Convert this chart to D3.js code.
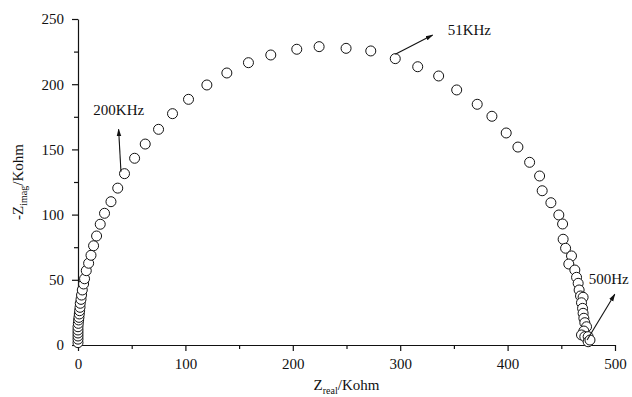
<!DOCTYPE html>
<html>
<head>
<meta charset="utf-8">
<script src="https://cdn.jsdelivr.net/npm/d3@7"></script>
<style>
  body { margin: 0; background: #fff; }
  text { font-family: "Liberation Serif", "Times New Roman", serif; fill: #111; }
  .axis path, .axis line { stroke: #111; stroke-width: 1.2px; }
  .axis text { font-size: 15px; font-family: "Liberation Serif", serif; fill: #111; }
</style>
</head>
<body>
<script>
// impedance data, Kohm
var zReal = [0, 0, 0, 0, 0, 0, 0.3, 0.6, 0.9, 1.2, 1.5, 1.9, 2.1, 2.8, 3.3, 4.0, 5.2, 6.1, 7.7, 9.9,
    12.1, 14.5, 17.3, 20.7, 24.7, 30.7, 37.0, 43.3, 52.7, 62.6, 75.0, 88.0, 102.9, 120.0, 138.6, 158.7,
    179.5, 203.7, 224.5, 249.6, 272.6, 295.4, 316.3, 335.8, 352.6, 371.7, 385.4, 398.7, 409.6, 420.5,
    429.8, 432.2, 440.3, 447.7, 451.2, 451.7, 454.0, 459.5, 457.0, 462.6, 464.2, 465.7, 466.6, 467.9,
    470.3, 468.8, 469.8, 470.3, 471.0, 471.9, 473.5, 471.0, 468.8, 471.9, 475.0, 475.0, 476.7];
var zImag = [1.8, 4.5, 6.9, 9.2, 11.5, 14.0, 16.6, 19.2, 21.2, 23.8, 26.3, 28.9, 32.0, 35.0, 38.3, 42.2,
    46.8, 50.8, 57.0, 62.7, 68.8, 76.1, 83.6, 92.6, 101.0, 109.9, 120.3, 131.4, 143.2, 154.1, 165.4,
    177.4, 188.4, 199.4, 208.6, 216.5, 222.4, 226.8, 228.8, 227.5, 225.5, 219.6, 213.4, 206.3, 195.6,
    184.6, 175.4, 162.6, 151.8, 140.1, 129.6, 118.3, 109.1, 99.7, 92.8, 81.1, 74.2, 68.3, 62.1, 57.5,
    51.9, 47.3, 42.2, 37.6, 36.6, 32.4, 28.1, 24.3, 20.5, 17.1, 14.0, 10.7, 7.7, 6.4, 6.4, 2.5, 3.8];

var xTicks = [0, 100, 200, 300, 400, 500];
var yTicks = [0, 50, 100, 150, 200, 250];

// frequency labels: text, arrow tail, arrow head (data units)
var noteLabels = ["200KHz", "51KHz", "500Hz"];
var noteText = [[14.3, 176.4], [344.2, 238.1], [475.6, 46.8]];
var noteTail = [[40.0, 132.9], [295.4, 222.9], [474.0, 3.8]];
var noteHead = [[37.8, 165.4], [330.2, 237.7], [499.8, 38.9]];

var width = 632, height = 397;
var margin = {left: 78, right: 17, top: 19, bottom: 52};

var svg = d3.select("body").append("svg")
    .attr("width", width)
    .attr("height", height);

var x = d3.scaleLinear().domain([0, 500]).range([margin.left, width - margin.right]);
var y = d3.scaleLinear().domain([0, 250]).range([height - margin.bottom, margin.top]);

svg.append("defs").append("marker")
    .attr("id", "arr")
    .attr("viewBox", "0 0 10 10")
    .attr("refX", 9).attr("refY", 5)
    .attr("markerWidth", 7).attr("markerHeight", 7)
    .attr("orient", "auto")
    .append("path")
    .attr("d", "M0,2 L10,5 L0,8 Z")
    .attr("fill", "#111");

// minor ticks first
svg.append("g").attr("class", "axis")
    .attr("transform", "translate(0," + y(0) + ")")
    .call(d3.axisBottom(x).tickValues(d3.range(50, 500, 100)).tickSize(4).tickFormat(""))
    .select(".domain").remove();
svg.append("g").attr("class", "axis")
    .attr("transform", "translate(" + x(0) + ",0)")
    .call(d3.axisLeft(y).tickValues(d3.range(25, 250, 50)).tickSize(4).tickFormat(""))
    .select(".domain").remove();

svg.append("g").attr("class", "axis")
    .attr("transform", "translate(0," + y(0) + ")")
    .call(d3.axisBottom(x).tickValues(xTicks).tickSize(6).tickSizeOuter(0).tickPadding(7));
svg.append("g").attr("class", "axis")
    .attr("transform", "translate(" + x(0) + ",0)")
    .call(d3.axisLeft(y).tickValues(yTicks).tickSize(6).tickSizeOuter(0).tickPadding(8));

// axis titles
var xt = svg.append("text")
    .attr("x", (x(0) + x(500)) / 2)
    .attr("y", 390)
    .attr("text-anchor", "middle")
    .style("font-size", "15px");
xt.append("tspan").text("Z");
xt.append("tspan").attr("dy", 4).style("font-size", "10px").text("real");
xt.append("tspan").attr("dy", -4).text("/Kohm");

var yt = svg.append("text")
    .attr("transform", "translate(23,182) rotate(-90)")
    .attr("text-anchor", "middle")
    .style("font-size", "15px");
yt.append("tspan").text("-Z");
yt.append("tspan").attr("dy", 4).style("font-size", "10px").text("imag");
yt.append("tspan").attr("dy", -4).text("/Kohm");

// data points
svg.append("g")
    .selectAll("circle")
    .data(d3.range(zReal.length))
    .enter().append("circle")
    .attr("cx", function (i) { return x(zReal[i]); })
    .attr("cy", function (i) { return y(zImag[i]); })
    .attr("r", 5)
    .attr("fill", "#fff")
    .attr("stroke", "#111")
    .attr("stroke-width", 1);

// annotations
noteLabels.forEach(function (lab, i) {
    svg.append("line")
        .attr("x1", x(noteTail[i][0])).attr("y1", y(noteTail[i][1]))
        .attr("x2", x(noteHead[i][0])).attr("y2", y(noteHead[i][1]))
        .attr("stroke", "#111").attr("stroke-width", 1.1)
        .attr("marker-end", "url(#arr)");
    svg.append("text")
        .attr("x", x(noteText[i][0])).attr("y", y(noteText[i][1]))
        .style("font-size", "15px")
        .text(lab);
});
</script>
</body>
</html>
